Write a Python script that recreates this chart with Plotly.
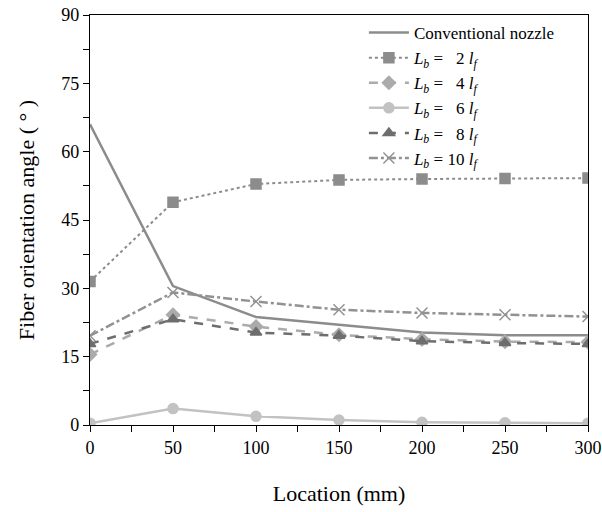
import plotly.graph_objects as go

location = [0, 50, 100, 150, 200, 250, 300]
conventional = [66.0, 30.5, 23.7, 22.0, 20.3, 19.7, 19.7]
lb2 = [31.5, 48.9, 52.9, 53.8, 54.0, 54.1, 54.2]
lb4 = [15.5, 24.2, 21.6, 19.8, 18.8, 18.3, 18.2]
lb6 = [0.4, 3.6, 1.9, 1.1, 0.6, 0.5, 0.4]
lb8 = [17.8, 23.2, 20.3, 19.6, 18.4, 18.0, 17.8]
lb10 = [19.6, 29.1, 27.1, 25.3, 24.6, 24.2, 23.8]

names = [
    "Conventional nozzle",
    "<i>L<sub>b</sub></i> =   2 <i>l<sub>f</sub></i>",
    "<i>L<sub>b</sub></i> =   4 <i>l<sub>f</sub></i>",
    "<i>L<sub>b</sub></i> =   6 <i>l<sub>f</sub></i>",
    "<i>L<sub>b</sub></i> =   8 <i>l<sub>f</sub></i>",
    "<i>L<sub>b</sub></i> = 10 <i>l<sub>f</sub></i>",
]

fig = go.Figure()
specs = [
    (conventional, "#8c8c8c", "solid", None, 2.5),
    (lb2, "#8c8c8c", "dot", "square", 2),
    (lb4, "#ababab", "dash", "diamond", 2.5),
    (lb6, "#c2c2c2", "solid", "circle", 2.5),
    (lb8, "#6e6e6e", "dash", "triangle-up", 2.5),
    (lb10, "#929292", "dashdot", "x-thin-open", 2.5),
]
for (ys, col, dash, sym, w), nm in zip(specs, names):
    if sym is None:
        fig.add_trace(go.Scatter(x=location, y=ys, name=nm, mode="lines",
                                 line=dict(color=col, width=w, dash=dash)))
    else:
        fig.add_trace(go.Scatter(x=location, y=ys, name=nm, mode="lines+markers",
                                 line=dict(color=col, width=w, dash=dash),
                                 marker=dict(symbol=sym, size=10 if sym != "x-thin-open" else 11,
                                             color=col, line=dict(color=col, width=1.5))))

font = "Liberation Serif, Times New Roman, serif"
axis_common = dict(showline=True, linecolor="black", linewidth=1.2, mirror=True,
                   ticks="outside", ticklen=6, tickcolor="black", showgrid=False,
                   zeroline=False, automargin=False,
                   tickfont=dict(family=font, size=18, color="black"))
fig.update_layout(
    width=602, height=512,
    margin=dict(l=90, r=14, t=15, b=87),
    paper_bgcolor="white", plot_bgcolor="white",
    font=dict(family=font, color="black"),
    xaxis=dict(range=[0, 300], tickvals=[0, 50, 100, 150, 200, 250, 300],
               minor=dict(ticks="outside", ticklen=6, tickcolor="black", dtick=25),
               title=dict(text="Location (mm)", font=dict(family=font, size=22), standoff=28),
               **axis_common),
    yaxis=dict(range=[0, 90], tickvals=[0, 15, 30, 45, 60, 75, 90],
               minor=dict(ticks="outside", ticklen=6, tickcolor="black", dtick=7.5),
               title=dict(text="Fiber orientation angle ( ° )", font=dict(family=font, size=22), standoff=20),
               **axis_common),
    legend=dict(x=0.55, y=1.0, xanchor="left", yanchor="top",
                bgcolor="rgba(0,0,0,0)", font=dict(family=font, size=17),
                tracegroupgap=0, itemwidth=40),
    showlegend=True,
)
fig.write_html("out.html")
